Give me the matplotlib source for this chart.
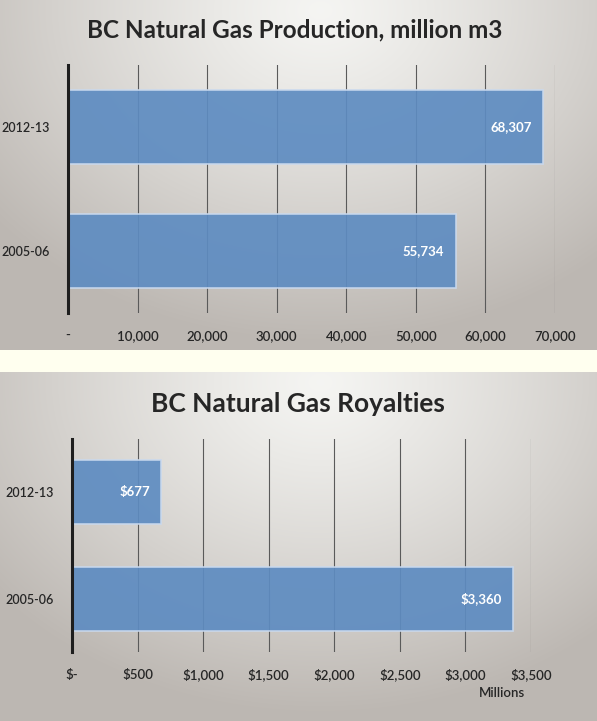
import numpy as np
import matplotlib.pyplot as plt
from matplotlib.ticker import FuncFormatter

years = ["2005-06", "2012-13"]
production = [55734, 68307]      # million m3
royalties = [3360, 677]          # $ millions

prod_ticks = [0, 10000, 20000, 30000, 40000, 50000, 60000, 70000]
roy_ticks = [0, 500, 1000, 1500, 2000, 2500, 3000, 3500]

plt.rcParams['font.family'] = ['Lato', 'DejaVu Sans']

W, H = 597, 721
fig = plt.figure(figsize=(W / 100, H / 100), dpi=100)

# background: two grey radial gradient panels with a cream band between them
bg = fig.add_axes([0, 0, 1, 1], zorder=-10)
yy, xx = np.mgrid[0:H, 0:W]
light = np.array([0.96, 0.96, 0.95])
dark = np.array([0.74, 0.72, 0.70])

def panel(y0):
    r = np.sqrt(((xx - 320) / 420.0) ** 2 + ((yy - y0 - 10) / 330.0) ** 2)
    t = np.clip(r, 0, 1) ** 1.2
    return light * (1 - t[..., None]) + dark * t[..., None]

img = np.ones((H, W, 3)) * np.array([1.0, 1.0, 0.94])
img[:350] = panel(0)[:350]
img[372:] = panel(372)[372:]
bg.imshow(img, aspect='auto', extent=[0, W, H, 0])
bg.set_axis_off()

def draw_bars(ax, values, ticks, fmt, label_fmt, title, title_xy, title_size):
    pos = np.arange(len(years))
    ax.set_facecolor('none')
    ax.set_axisbelow(True)
    ax.barh(pos, values, height=0.6, color='#5e8cc1', alpha=0.92,
            edgecolor='#c9d9ee', linewidth=1.2, zorder=2)
    for p, v in zip(pos, values):
        ax.text(v - ticks[-1] * 0.024, p, label_fmt(v), color='white',
                ha='right', va='center', fontsize=9.5, fontweight='bold', zorder=3)
    ax.set_xlim(0, ticks[-1])
    ax.set_ylim(-0.5, 1.5)
    ax.set_xticks(ticks)
    ax.xaxis.set_major_formatter(FuncFormatter(fmt))
    ax.set_yticks(pos)
    ax.set_yticklabels(years)
    ax.grid(axis='x', color='#5a5a5a', linewidth=0.8)
    for s in ['top', 'right', 'bottom']:
        ax.spines[s].set_visible(False)
    ax.spines['left'].set_linewidth(2.2)
    ax.spines['left'].set_color('#1e1e1e')
    ax.tick_params(length=0, labelsize=9.5, labelcolor='#262626')
    ax.tick_params(axis='x', pad=12)
    ax.tick_params(axis='y', pad=13, labelsize=9)
    for lab in ax.get_xticklabels() + ax.get_yticklabels():
        lab.set_fontweight('semibold')
    fig.text(title_xy[0] / W, 1 - title_xy[1] / H, title, ha='center', va='center',
             fontsize=title_size, fontweight='bold', color='#262626')

ax1 = fig.add_axes([68 / W, 1 - 313 / H, (555 - 68) / W, (313 - 65) / H])
draw_bars(ax1, production, prod_ticks,
          lambda v, p: '-' if v == 0 else f'{int(v):,}',
          lambda v: f'{v:,}',
          'BC Natural Gas Production, million m3', (295, 30), 17.5)

ax2 = fig.add_axes([72 / W, 1 - 652 / H, (531 - 72) / W, (652 - 439) / H])
draw_bars(ax2, royalties, roy_ticks,
          lambda v, p: '$-' if v == 0 else f'${int(v):,}',
          lambda v: f'${v:,}',
          'BC Natural Gas Royalties', (298, 404), 19)
fig.text(502 / W, 1 - 693 / H, 'Millions', ha='center', va='center',
         fontsize=9.5, color='#262626', fontweight='semibold')

fig.savefig('out.png', dpi=100)
